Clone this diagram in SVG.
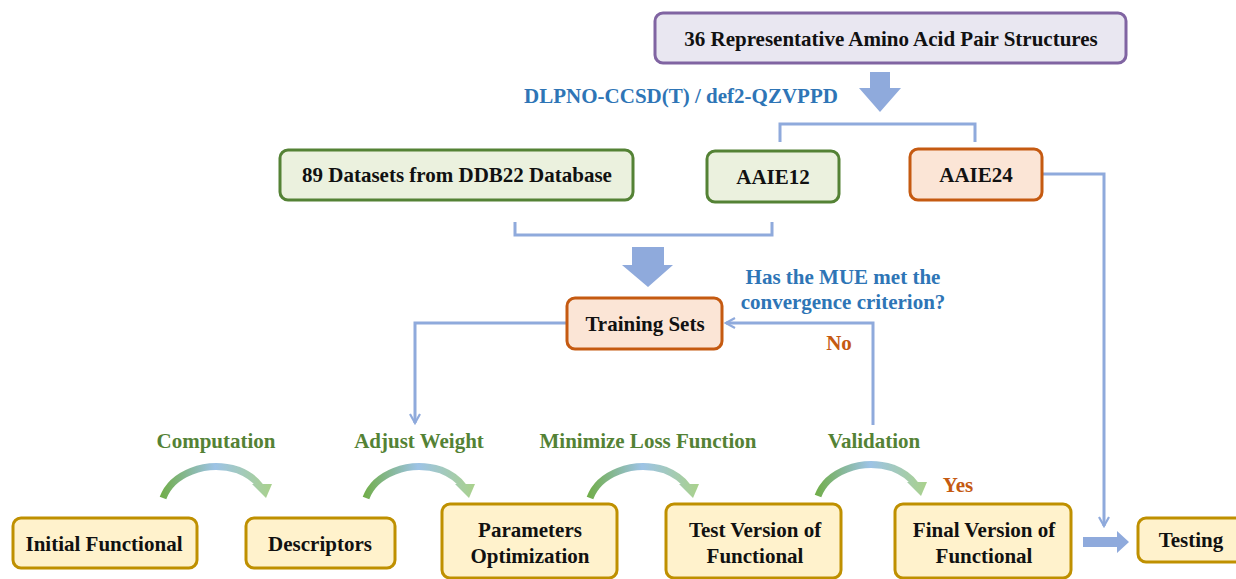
<svg xmlns="http://www.w3.org/2000/svg" xmlns:xlink="http://www.w3.org/1999/xlink" width="1236" height="579" viewBox="0 0 1236 579">
<style>
text{font-family:"Liberation Serif","Times New Roman",serif;font-weight:bold;text-anchor:middle}
.t{font-size:21px;fill:#111}
.blue{font-size:21px;fill:#2e75b6}
.green{font-size:21px;fill:#548235}
.orange{font-size:21px;fill:#c55a11}
.purple{fill:#e9e7f1;stroke:#8064a2;stroke-width:3}
.gbox{fill:#ebf1de;stroke:#548235;stroke-width:3}
.obox{fill:#fbe5d6;stroke:#c55a11;stroke-width:3}
.ybox{fill:#fff2cc;stroke:#bf9000;stroke-width:3}
.ln{fill:none;stroke:#8faadc;stroke-width:3}
.fat{fill:#8faadc}
</style>
<defs>
<marker id="open" viewBox="0 0 12 12" refX="10" refY="6" markerWidth="12" markerHeight="12" markerUnits="userSpaceOnUse" orient="auto">
<path d="M1,1 L10,6 L1,11" fill="none" stroke="#8faadc" stroke-width="2.2"/>
</marker>
<linearGradient id="cg" gradientUnits="userSpaceOnUse" x1="0" y1="0" x2="110" y2="0">
<stop offset="0" stop-color="#70ad47"/>
<stop offset="0.5" stop-color="#9dc3e6"/>
<stop offset="1" stop-color="#a9d18e"/>
</linearGradient>
<symbol id="curve" overflow="visible">
<path d="M3,32 C12,8 45,-6 78,4 C88,8 95,13 100,20" fill="none" stroke="url(#cg)" stroke-width="7"/>
<polygon points="92,18 112,18 106,32" fill="url(#cg)"/>
</symbol>
</defs>

<g id="connectors">
<polygon class="fat" points="870,72 890,72 890,88 901,88 880,112 859,88 870,88"/>
<path class="ln" d="M780,142 V124 H975 V142"/>
<path class="ln" d="M515,222 V235 H772 V222"/>
<polygon class="fat" points="632,247 664,247 664,265 673,265 648,287 622,265 632,265"/>
<path class="ln" d="M1042,174 H1104 V526" marker-end="url(#open)"/>
<path class="ln" d="M567,323 H415 V423" marker-end="url(#open)"/>
<path class="ln" d="M873,425 V323 H726" marker-end="url(#open)"/>
<polygon class="fat" points="1083,537 1117,537 1117,531 1129,542 1117,553 1117,547 1083,547"/>
<use href="#curve" x="160" y="466"/>
<use href="#curve" x="363" y="466"/>
<use href="#curve" x="587" y="466"/>
<use href="#curve" x="815" y="464"/>
</g>

<g id="labels">
<text class="blue" x="681" y="103">DLPNO-CCSD(T) / def2-QZVPPD</text>
<text class="blue" x="843" y="284">Has the MUE met the</text>
<text class="blue" x="843" y="309">convergence criterion?</text>
<text class="orange" x="839" y="350">No</text>
<text class="orange" x="958" y="492">Yes</text>
<text class="green" x="216" y="448">Computation</text>
<text class="green" x="419" y="448">Adjust Weight</text>
<text class="green" x="648" y="448">Minimize Loss Function</text>
<text class="green" x="874" y="448">Validation</text>
</g>

<g id="n-amino"><rect class="purple" x="655" y="13" width="471" height="50" rx="8"/><text class="t" x="891" y="46">36 Representative Amino Acid Pair Structures</text></g>
<g id="n-ddb22"><rect class="gbox" x="280" y="150" width="353" height="50" rx="8"/><text class="t" x="457" y="182">89 Datasets from DDB22 Database</text></g>
<g id="n-aaie12"><rect class="gbox" x="707" y="151" width="132" height="51" rx="8"/><text class="t" x="773" y="184">AAIE12</text></g>
<g id="n-aaie24"><rect class="obox" x="910" y="149" width="132" height="51" rx="8"/><text class="t" x="976" y="182">AAIE24</text></g>
<g id="n-training"><rect class="obox" x="567" y="298" width="155" height="51" rx="8"/><text class="t" x="645" y="331">Training Sets</text></g>
<g id="n-initial"><rect class="ybox" x="13" y="518" width="184" height="50" rx="8"/><text class="t" x="104" y="551">Initial Functional</text></g>
<g id="n-descriptors"><rect class="ybox" x="246" y="518" width="149" height="50" rx="8"/><text class="t" x="320" y="551">Descriptors</text></g>
<g id="n-params"><rect class="ybox" x="442" y="504" width="175" height="74" rx="8"/><text class="t" x="530" y="537">Parameters</text><text class="t" x="530" y="563">Optimization</text></g>
<g id="n-test"><rect class="ybox" x="666" y="504" width="175" height="74" rx="8"/><text class="t" x="755" y="537">Test Version of</text><text class="t" x="755" y="563">Functional</text></g>
<g id="n-final"><rect class="ybox" x="895" y="504" width="176" height="74" rx="8"/><text class="t" x="984" y="537">Final Version of</text><text class="t" x="984" y="563">Functional</text></g>
<g id="n-testing"><rect class="ybox" x="1138" y="518" width="110" height="44" rx="8"/><text class="t" x="1191" y="547">Testing</text></g>
</svg>
